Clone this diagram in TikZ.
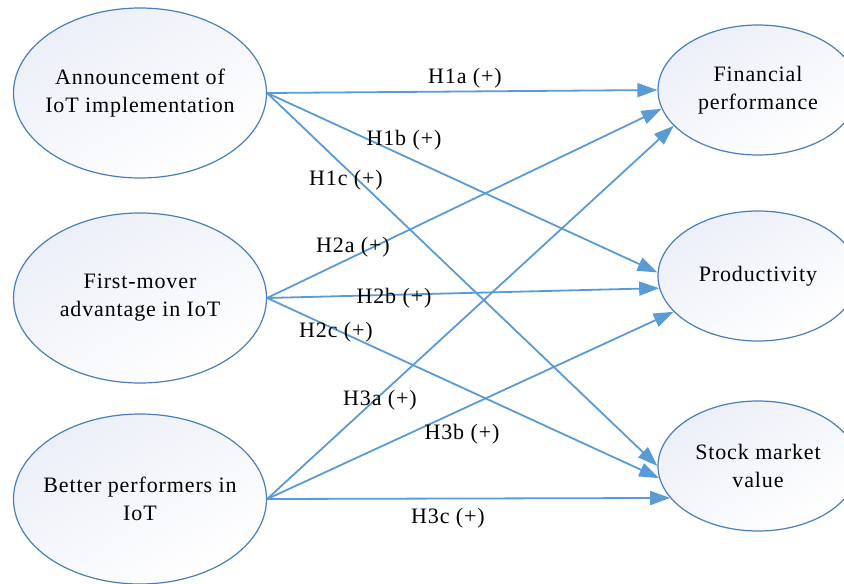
\documentclass[tikz,border=0pt]{standalone}
\usepackage{fontspec}
\setmainfont{Liberation Serif}[LetterSpace=4]
\usetikzlibrary{arrows.meta,positioning,shapes.geometric}
\definecolor{edgeblue}{HTML}{4A7EBB}
\definecolor{arrowblue}{HTML}{5B9BD5}
\definecolor{fillblue}{HTML}{ECEFF8}

\begin{document}
\begin{tikzpicture}[x=1pt,y=-1pt,
    font=\fontsize{22}{28}\selectfont,
    construct/.style={ellipse,draw=edgeblue,line width=1.2pt,
      top color=fillblue,bottom color=white,shading angle=30,
      align=center,inner xsep=-15pt,inner ysep=0pt},
    cause/.style={construct,minimum width=253pt,minimum height=170pt},
    effect/.style={construct,minimum width=200pt,minimum height=130pt},
    hyp/.style={draw=arrowblue,line width=1.8pt,
      -{Triangle[length=20pt,width=14pt]}},
    lab/.style={inner sep=1pt}]
    \useasboundingbox (0,0) rectangle (844,584);

    % antecedents
    \node[cause] (announce) at (140,93) {Announcement of\\IoT implementation};
    \node[cause] (firstmover) at (140,298) {First-mover\\advantage in IoT};
    \node[cause] (better) at (140,499) {Better performers in\\IoT};

    % outcomes
    \node[effect] (fin) at (758,90) {Financial\\performance};
    \node[effect] (prod) at (758,276) {Productivity};
    \node[effect] (stock) at (758,466) {Stock market\\value};

    % hypotheses
    \draw[hyp] (announce.east) -- (fin.180);
    \draw[hyp] (announce.east) -- (prod.178);
    \draw[hyp] (announce.east) -- (stock.180);
    \draw[hyp] (firstmover.east) -- (fin.191);
    \draw[hyp] (firstmover.east) -- (prod.187);
    \draw[hyp] (firstmover.east) -- (stock.187);
    \draw[hyp] (better.east) -- (fin.203);
    \draw[hyp] (better.east) -- (prod.203);
    \draw[hyp] (better.east) -- (stock.200);

    \node[lab] (h1a) at (465,78) {H1a (+)};
    \node[lab] (h1b) at (404,140) {H1b (+)};
    \node[lab] (h1c) at (346,180) {H1c (+)};
    \node[lab] (h2a) at (353,247) {H2a (+)};
    \node[lab] (h2b) at (394,298) {H2b (+)};
    \node[lab] (h2c) at (336,332) {H2c (+)};
    \node[lab] (h3a) at (380,400) {H3a (+)};
    \node[lab] (h3b) at (462,434) {H3b (+)};
    \node[lab] (h3c) at (448,518) {H3c (+)};
  \end{tikzpicture}
\end{document}
